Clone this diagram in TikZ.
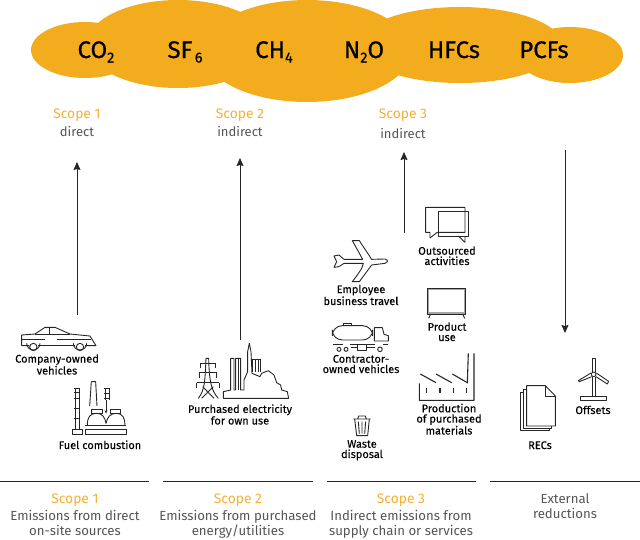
\documentclass[tikz,border=0pt]{standalone}
\usepackage{fontspec}
\setmainfont{Fira Sans}
\newfontfamily\labfont[FakeBold=0.15]{Fira Sans}
\newfontfamily\gasfont[FakeBold=0.5]{Fira Sans}
\usetikzlibrary{arrows.meta}
\definecolor{gold}{HTML}{F2AC1E}
\definecolor{scopec}{HTML}{F6B032}
\definecolor{graytxt}{HTML}{555555}
\newcommand{\gsub}[1]{\raisebox{-4.5pt}{\fontsize{14.5}{14.5}\selectfont #1}}
\tikzset{
  x=1pt,y=-1pt,
  gas/.style={anchor=base,inner sep=0,font=\fontsize{24}{24}\gasfont,text=black},
  scopehead/.style={anchor=base,inner sep=0,font=\fontsize{13.8}{14}\selectfont,text=scopec},
  scopesub/.style={anchor=base,inner sep=0,font=\fontsize{13}{13}\selectfont,text=graytxt},
  iconlab/.style={anchor=base,inner sep=0,align=center,font=\fontsize{11}{10.3}\labfont,text=black},
  desc/.style={anchor=base,inner sep=0,align=center,font=\fontsize{13.2}{15}\selectfont,text=graytxt},
  flow/.style={draw=black!85,line width=1pt,-{Stealth[length=8pt,width=7pt,inset=1pt]}},
  rulebar/.style={draw=black!85,line width=1pt},
  icon/.style={draw=black!85,line width=.9pt,line join=round,fill=none},
  zoomA/.style={shift={(0,310)},x=.3333pt,y=-.3333pt},
  zoomB/.style={shift={(170,330)},x=.3333pt,y=-.3333pt},
  zoomC/.style={shift={(320,200)},x=.3333pt,y=-.3333pt},
  zoomD/.style={shift={(320,315)},x=.3333pt,y=-.3333pt},
  zoomE/.style={shift={(510,340)},x=.3333pt,y=-.3333pt},
}
\begin{document}
\begin{tikzpicture}
\useasboundingbox (0,0) rectangle (640,539);
% cloud
\fill[gold] (85,50) ellipse [x radius=54,y radius=28];
\fill[gold] (178,44) ellipse [x radius=91,y radius=44];
\fill[gold] (307,51) ellipse [x radius=104,y radius=51];
\fill[gold] (460,45) ellipse [x radius=102,y radius=38];
\fill[gold] (570,55) ellipse [x radius=53,y radius=28];
% gases
\node[gas] (co2) at (96,58) {CO\gsub{2}};
\node[gas] (sf6) at (185,58) {SF\gsub{\,6}};
\node[gas] (ch4) at (274,58) {CH\gsub{4}};
\node[gas] (n2o) at (364,58) {N\gsub{2}O};
\node[gas] (hfc) at (454,58) {HFCs};
\node[gas] (pcf) at (544,58) {PCFs};
% scopes
\node[scopehead] (s1) at (77,118) {Scope 1};
\node[scopesub] (s1b) at (77,136.5) {direct};
\node[scopehead] (s2) at (240,118) {Scope 2};
\node[scopesub] (s2b) at (240,136.5) {indirect};
\node[scopehead] (s3) at (403,118) {Scope 3};
\node[scopesub] (s3b) at (403,138.5) {indirect};
% arrows
\coordinate (a1a) at (77,315); \coordinate (a1b) at (77,162);
\coordinate (a2a) at (240,340); \coordinate (a2b) at (240,158);
\coordinate (a3a) at (404,233); \coordinate (a3b) at (404,152);
\coordinate (a4a) at (565,150); \coordinate (a4b) at (565,333);
\draw[flow] (a1a) -- (a1b);
\draw[flow] (a2a) -- (a2b);
\draw[flow] (a3a) -- (a3b);
\draw[flow] (a4a) -- (a4b);
% car
\begin{scope}[zoomA]
\draw[icon] (88,107) -- (65,107) -- (65,75) -- (105,72) -- (135,52) -- (165,52) -- (210,72) -- (270,78) -- (288,107) -- (255,107);
\draw[icon] (115,107) -- (226,107);
\draw[icon] (100,111) circle [radius=11];
\draw[icon] (240,111) circle [radius=11];
\draw[icon] (105,72) -- (210,72);
\draw[icon] (148,52) -- (148,72);
\draw[icon] (65,88) -- (135,88);
\draw[icon] (172,88) -- (272,88);
\draw[icon] (80,100) arc (180:0:20);
\draw[icon] (220,100) arc (180:0:20);
% fuel
\draw[icon] (226,235) -- (226,357) (238,235) -- (238,357);
\foreach \yy in {235,248,265,295,325} {\draw[icon] (223,\yy) -- (241,\yy);}
\draw[icon] (216,357) rectangle (247,373);
\draw[icon] (269,288) -- (274,215) -- (287,215) -- (291,288);
\draw[icon] (316,235) -- (316,270) (328,235) -- (328,270);
\draw[icon] (313,235) -- (331,235) (313,250) -- (331,250) (313,265) -- (331,265);
\draw[icon,-{Stealth[length=3pt,width=3pt]}] (318,270) -- (318,310);
\draw[icon] (274,310) -- (274,297) -- (306,297) -- (306,310) -- (274,310);
\draw[icon] (330,310) -- (330,297) -- (362,297) -- (362,310) -- (330,310);
\draw[icon] (262,345) .. controls (262,322) and (270,310) .. (290,310) .. controls (305,310) and (315,320) .. (318,340) .. controls (322,320) and (332,310) .. (350,310) .. controls (368,310) and (375,325) .. (375,345);
\draw[icon] (255,345) -- (378,345);
\draw[icon] (255,358) rectangle (378,373);
\end{scope}
% power plant
\begin{scope}[zoomB]
\draw[icon] (85,205) .. controls (105,180) and (105,150) .. (108,85) -- (116,85) .. controls (118,150) and (122,180) .. (145,205);
\draw[icon] (92,100) -- (135,100) (92,100) -- (92,115) (135,100) -- (135,115);
\draw[icon] (87,128) -- (140,128) (87,128) -- (87,143) (140,128) -- (140,143);
\draw[icon] (80,158) -- (147,158) (80,158) -- (80,175) (147,158) -- (147,175);
\draw[icon] (95,205) -- (130,170) (132,205) -- (98,170);
\draw[icon] (160,205) -- (160,185) -- (182,180) -- (182,85) -- (192,85) -- (192,180) -- (197,180) -- (197,85) -- (212,85) -- (212,180) -- (222,180) -- (222,150) -- (233,125) -- (233,65) -- (238,40) -- (243,65) -- (246,130) -- (270,140) -- (275,130) -- (295,122) -- (312,135) -- (320,158) -- (332,165) -- (335,180) -- (352,185) -- (356,205) -- cycle;
\draw[icon] (248,88) -- (248,125) (256,88) -- (256,125) (264,88) -- (264,125) (270,88) -- (270,125);
\draw[icon] (248,88) -- (270,88);
\draw[icon] (205,85) -- (205,180);
\end{scope}
% bubbles, plane, TV
\begin{scope}[zoomC]
\draw[icon] (352,97) -- (330,114) -- (330,97) -- (317,97) -- (317,22) -- (435,22) -- (435,97) -- cycle;
\draw[icon] (355,35) rectangle (445,108);
\draw[icon] (415,108) -- (435,127) -- (435,108);
\draw[icon] (125,205) .. controls (110,230) and (100,240) .. (97,245) -- (118,245) -- (155,195) -- (195,190) .. controls (205,185) and (205,180) .. (195,177) -- (155,178) -- (118,122) -- (97,122) -- (128,178) -- (72,178) -- (57,165) -- (42,168) -- (50,185) -- (42,202) -- (57,200) -- (72,190) -- (130,190) -- cycle;
\draw[line width=1.8pt,draw=gray!70] (325,268) rectangle (434,340);
\draw[icon] (323,266) rectangle (436,342);
\draw[icon] (332,342) -- (326,355) (428,342) -- (434,355);
\end{scope}
% truck, factory, bin
\begin{scope}[zoomD]
\draw[icon,rounded corners=10pt] (37,32) rectangle (158,75);
\draw[icon] (70,32) -- (70,25) -- (95,25) -- (95,32);
\draw[icon] (163,78) -- (163,38) -- (187,38) -- (192,58) -- (205,62) -- (205,78) -- cycle;
\draw[icon] (40,88) -- (70,88) (90,88) -- (110,88) (140,88) -- (165,88) (190,88) -- (205,88);
\draw[icon] (57,103) circle [radius=6];
\draw[icon] (78,103) circle [radius=6];
\draw[icon] (180,103) circle [radius=7];
\draw[icon] (112,88) rectangle (138,105);
\draw[icon] (92,98) -- (112,98) (138,98) -- (165,98);
% factory
\draw[icon,line width=1.1pt] (298,205) -- (298,256) -- (462,256) -- (462,115) (445,115) -- (442,205);
\draw[icon,line width=1.1pt] (301,177) -- (348,203);
\draw[icon,line width=1.1pt] (348,177) -- (395,203);
\draw[icon,line width=1.1pt] (397,177) -- (442,203);
\foreach \xx in {320,360,400,440} {\draw[icon,line width=1.1pt] (\xx,220) -- (\xx,234);}
% bin
\draw[icon] (100,312) -- (152,312) (113,312) -- (116,303) -- (136,303) -- (139,312);
\draw[icon] (104,312) -- (110,362) -- (143,362) -- (148,312);
\draw[icon] (115,320) -- (118,356) (126,320) -- (126,356) (137,320) -- (134,356);
\end{scope}
% RECs, turbine
\begin{scope}[zoomE]
\draw[icon] (50,137) -- (106,137) -- (136,168) -- (136,258) -- (50,258) -- cycle;
\draw[icon] (106,137) -- (106,168) -- (136,168);
\draw[icon] (50,147) -- (41,147) -- (41,266) -- (125,266) -- (125,258);
\draw[icon] (41,157) -- (31,157) -- (31,272) -- (118,272) -- (118,266);
\draw[icon] (246,95) -- (246,55) -- (256,55) -- (256,95);
\draw[icon] (245,110) -- (208,125) -- (205,122) -- (243,99);
\draw[icon] (258,110) -- (292,132) -- (296,124) -- (259,99);
\draw[icon] (251,103) circle [radius=7];
\draw[icon] (246,110) -- (246,170) (256,110) -- (256,170);
\draw[icon] (212,170) rectangle (290,180);
\end{scope}
% icon labels
\node[iconlab] (l1) at (57,374.5) {Company-owned\\vehicles};
\node[iconlab] (l2) at (100,449) {Fuel combustion};
\node[iconlab] (l3) at (240,424.5) {Purchased electricity\\for own use};
\node[iconlab] (l4) at (447,265) {Outsourced\\activities};
\node[iconlab] (l5) at (361,305) {Employee\\business travel};
\node[iconlab] (l6) at (447,341) {Product\\use};
\node[iconlab] (l7) at (361,373) {Contractor-\\owned vehicles};
\node[iconlab] (l8) at (449,434.5) {Production\\of purchased\\materials};
\node[iconlab] (l9) at (362,458) {Waste\\disposal};
\node[iconlab] (l10) at (593,414) {Offsets};
\node[iconlab] (l11) at (540,449) {RECs};
% rules
\coordinate (r1a) at (0,481); \coordinate (r1b) at (149,481);
\coordinate (r2a) at (163,481); \coordinate (r2b) at (313,481);
\coordinate (r3a) at (327,481); \coordinate (r3b) at (476,481);
\coordinate (r4a) at (490,481); \coordinate (r4b) at (640,481);
\draw[rulebar] (r1a) -- (r1b);
\draw[rulebar] (r2a) -- (r2b);
\draw[rulebar] (r3a) -- (r3b);
\draw[rulebar] (r4a) -- (r4b);
% bottom
\node[scopehead] (b1) at (75,503) {Scope 1};
\node[desc] (d1) at (75,535) {Emissions from direct\\on-site sources};
\node[scopehead] (b2) at (238,503) {Scope 2};
\node[desc] (d2) at (238,535) {Emissions from purchased\\energy/utilities};
\node[scopehead] (b3) at (401,503) {Scope 3};
\node[desc] (d3) at (401,535) {Indirect emissions from\\supply chain or services};
\node[desc] (d4) at (565,518) {External\\reductions};
\end{tikzpicture}
\end{document}
